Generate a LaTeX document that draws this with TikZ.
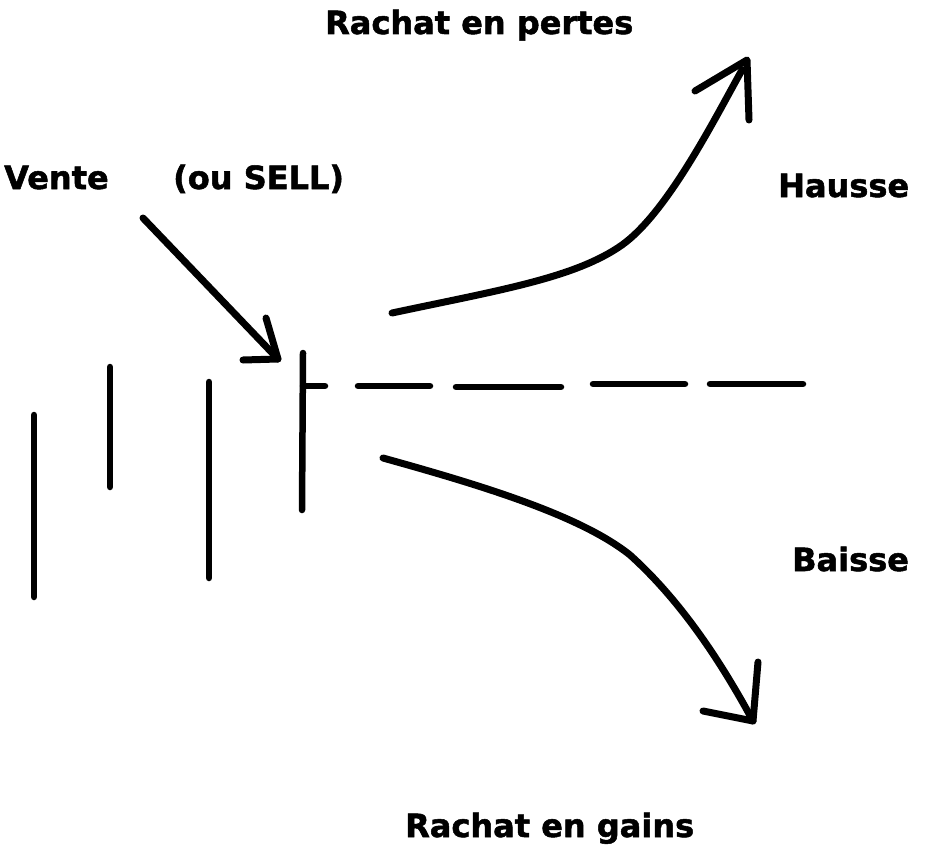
\documentclass[tikz,border=0pt]{standalone}
\usepackage{fontspec}
\setmainfont{DejaVu Sans}
\newfontfamily\heavyfont[FakeBold=1.6]{DejaVu Sans Bold}
\begin{document}
\begin{tikzpicture}[x=1pt,y=-1pt,
  lbl/.style={anchor=base west,inner sep=0pt,font=\heavyfont\fontsize{32}{38}\selectfont},
  stroke/.style={line width=7pt,line cap=round,line join=round},
  bar/.style={line width=6.5pt,line cap=round}]
\useasboundingbox (0,0) rectangle (925,848);
% labels
\node[lbl] (pertes) at (325,34) {Rachat en pertes};
\node[lbl] (vente) at (4,189) {Vente};
\node[lbl] (sell) at (173,189) {(ou SELL)};
\node[lbl] (hausse) at (778,197) {Hausse};
\node[lbl] (baisse) at (792,571) {Baisse};
\node[lbl] (gains) at (405,837) {Rachat en gains};
% bars
\draw[bar] (34,415) -- (34,597);
\draw[bar] (110,367) -- (110,487);
\draw[bar] (209,382) -- (209,578);
\coordinate (b4t) at (303,353);
\coordinate (b4b) at (302,510);
\coordinate (tick) at (303,386);
\coordinate (tickend) at (325,386);
\draw[bar] (b4t) -- (b4b);
\draw[bar] (tick) -- (tickend);
% dashed line
\draw[bar] (358,386) -- (430,386);
\draw[bar] (456,387) -- (561,387);
\draw[bar] (593,384) -- (685,384);
\draw[bar] (710,384) -- (803,384);
% Vente arrow
\coordinate (vs) at (143,218);
\coordinate (vt) at (278,359);
\draw[stroke] (vs) -- (vt);
\draw[stroke] (266,318) -- (vt) -- (243,360);
% upper curve
\coordinate (us) at (392,313);
\coordinate (ut) at (747,60);
\draw[stroke] (us) .. controls (500,290) and (575,278) .. (622,245)
  .. controls (668,212) and (715,118) .. (742,70);
\draw[stroke] (695,91) -- (ut) -- (749,120);
% lower curve
\coordinate (ls) at (383,458);
\coordinate (lt) at (753,721);
\draw[stroke] (ls) .. controls (480,485) and (580,515) .. (630,555)
  .. controls (680,600) and (720,660) .. (lt);
\draw[stroke] (758,662) -- (lt) -- (703,711);
\end{tikzpicture}
\end{document}
